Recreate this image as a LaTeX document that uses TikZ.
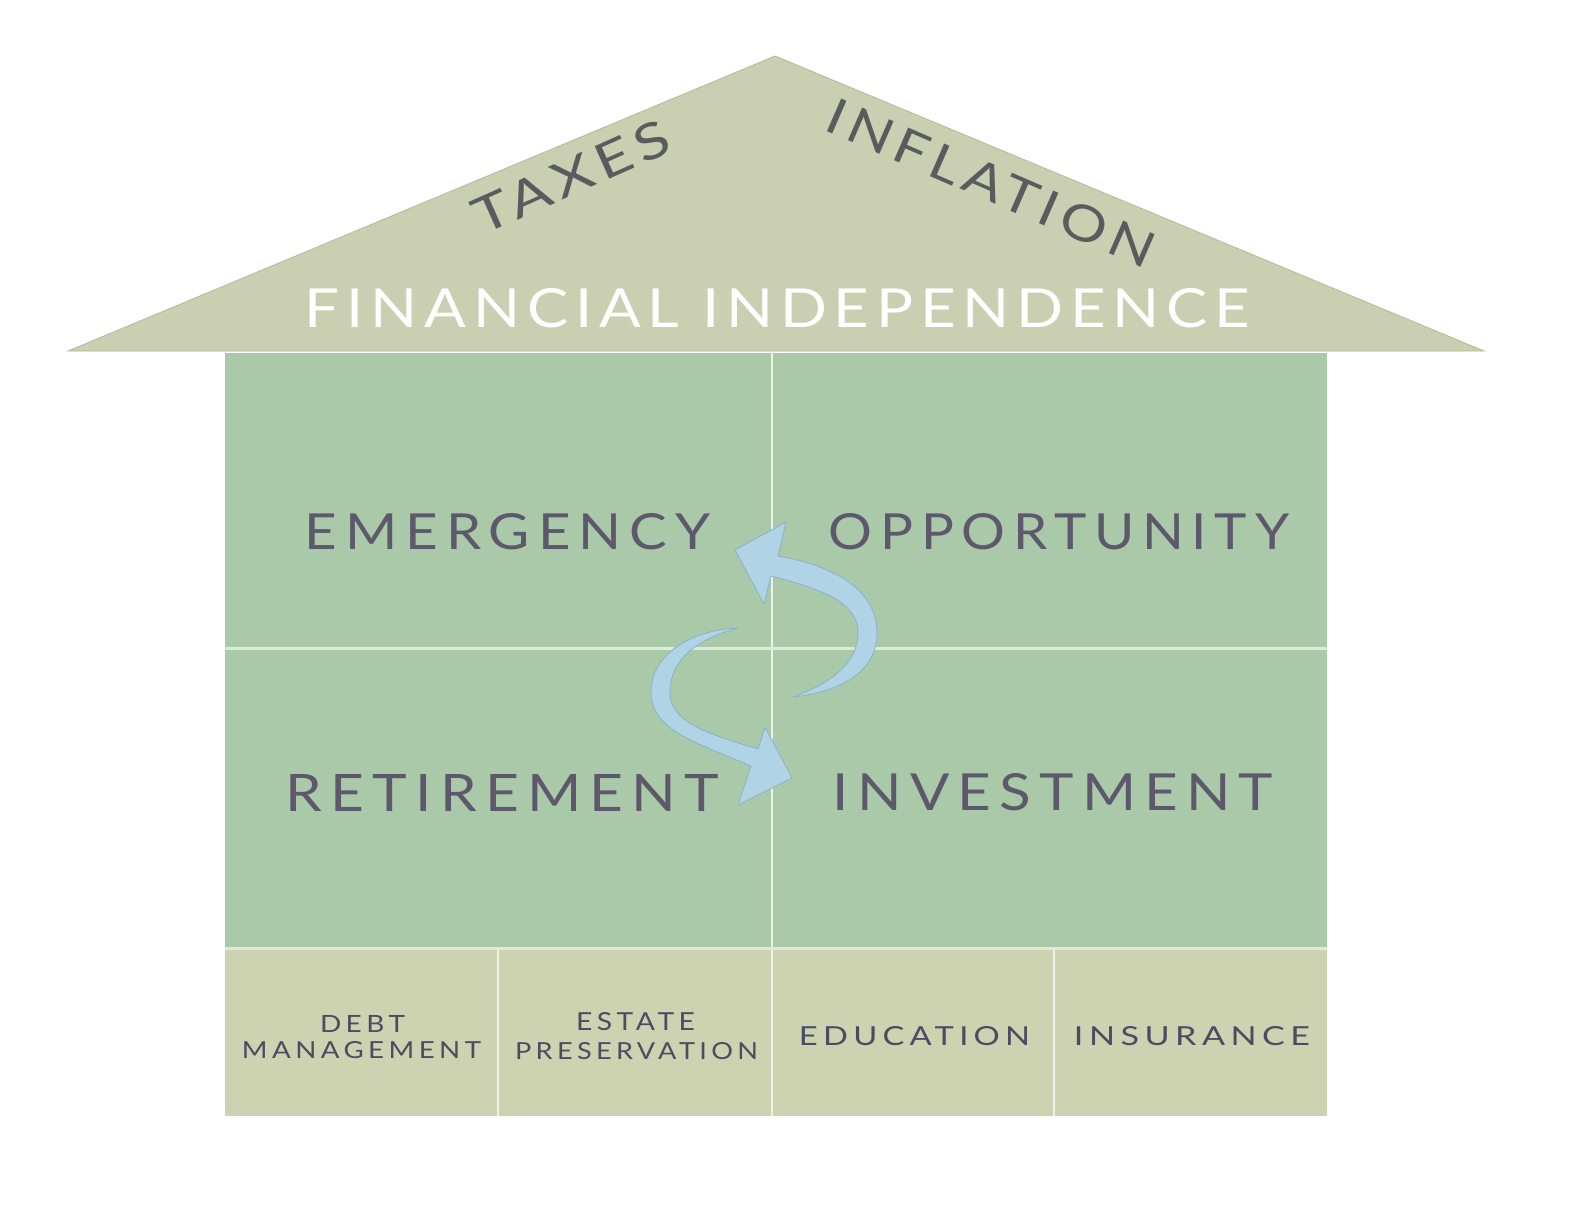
\documentclass[tikz,border=0pt]{standalone}
\usepackage{fontspec}
\setmainfont{Lato}
\usepackage{graphicx}
\definecolor{roofc}{RGB}{201,207,176}
\definecolor{roofedge}{RGB}{178,188,150}
\definecolor{cellgreen}{RGB}{169,201,169}
\definecolor{basec}{RGB}{205,210,176}
\definecolor{divline}{RGB}{236,242,232}
\definecolor{hline}{RGB}{222,234,218}
\definecolor{lblc}{RGB}{94,88,108}
\definecolor{roofl}{RGB}{88,92,94}
\definecolor{basel}{RGB}{76,75,98}
\definecolor{arrowc}{RGB}{176,211,229}
\definecolor{arrowe}{RGB}{138,178,202}
% [letter spacing, hundredths of em]{width}{height}{text}  (pt = px)
\newcommand\fitbox[4][14]{\resizebox{#2pt}{#3pt}{\addfontfeature{LetterSpace=#1}#4}}
\begin{document}
\begin{tikzpicture}[x=1pt,y=-1pt,
  lbl/.style={inner sep=0pt, outer sep=0pt, text=lblc},
  rooflbl/.style={inner sep=0pt, outer sep=0pt, text=roofl},
  baselbl/.style={inner sep=0pt, outer sep=0pt, text=basel},
  sep/.style={draw=divline, line width=2pt},
  swoosh/.style={fill=arrowc, draw=arrowe, line width=0.8pt, line join=round}]
\useasboundingbox (0,0) rectangle (1572,1224);
\fill[white] (0,0) rectangle (1572,1224);
% roof
\filldraw[fill=roofc, draw=roofedge, line width=0.8pt] (68,351) -- (775,56) -- (1484,351) -- cycle;
% main block
\fill[cellgreen] (225,353) rectangle (1327,947);
\coordinate (vtop) at (772,353);
\coordinate (vbot) at (772,947);
\coordinate (hl) at (225,648);
\coordinate (hr) at (1327,648);
\draw[sep] (vtop) -- (vbot);
\draw[draw=hline, line width=3pt] (hl) -- (hr);
% base row
\fill[basec] (225,950) rectangle (1327,1116);
\draw[draw=hline, line width=2.5pt] (225,948.5) -- (1327,948.5);
\coordinate (b1t) at (497.5,950); \coordinate (b1b) at (497.5,1116);
\coordinate (b2t) at (772,950);   \coordinate (b2b) at (772,1116);
\coordinate (b3t) at (1054,950);  \coordinate (b3b) at (1054,1116);
\draw[sep] (b1t) -- (b1b);
\draw[sep] (b2t) -- (b2b);
\draw[sep] (b3t) -- (b3b);
% roof texts
\node[rooflbl, rotate=24] (taxes) at (571,177) {\fitbox[10]{210}{36}{TAXES}};
\node[rooflbl, rotate=-23.5] (inflation) at (991,183) {\fitbox[10]{352}{36}{INFLATION}};
\node[inner sep=0pt, text=white] (fin) at (777.5,308.5) {\fitbox[11]{945}{39}{FINANCIAL INDEPENDENCE}};
% quadrant labels
\node[lbl] (emergency) at (507.5,532) {\fitbox[14]{405}{36}{EMERGENCY}};
\node[lbl] (opportunity) at (1059,532) {\fitbox[14]{460}{36}{OPPORTUNITY}};
\node[lbl] (retirement) at (502.5,792.5) {\fitbox[14]{433}{37}{RETIREMENT}};
\node[lbl] (investment) at (1053,792.5) {\fitbox[14]{440}{37}{INVESTMENT}};
% base labels
\node[baselbl] (debt) at (362.5,1023.5) {\fitbox[16]{85}{17}{DEBT}};
\node[baselbl] (management) at (361.5,1050.5) {\fitbox[16]{239}{17}{MANAGEMENT}};
\node[baselbl] (estate) at (635.5,1022) {\fitbox[16]{119}{18}{ESTATE}};
\node[baselbl] (preservation) at (636.5,1051.5) {\fitbox[16]{243}{17}{PRESERVATION}};
\node[baselbl] (education) at (914.5,1036.5) {\fitbox[16]{231}{19}{EDUCATION}};
\node[baselbl] (insurance) at (1192,1036.5) {\fitbox[16]{236}{19}{INSURANCE}};
% cycle arrows
\filldraw[swoosh] (778,556) -- (786,522) -- (735,550) -- (764,604) -- (771,576)
  .. controls (825,590) and (858,603) .. (858,633)
  .. controls (858,662) and (832,683) .. (793,697)
  .. controls (840,692) and (877,672) .. (877,633)
  .. controls (877,590) and (835,566) .. (778,556) -- cycle;
\filldraw[swoosh] (758,749) -- (765,727) -- (792,778) -- (738,805) -- (751,766)
  .. controls (695,742) and (651,730) .. (651,692)
  .. controls (651,655) and (690,630) .. (738,628)
  .. controls (700,638) and (670,658) .. (670,692)
  .. controls (670,722) and (705,733) .. (758,749) -- cycle;
\end{tikzpicture}
\end{document}
